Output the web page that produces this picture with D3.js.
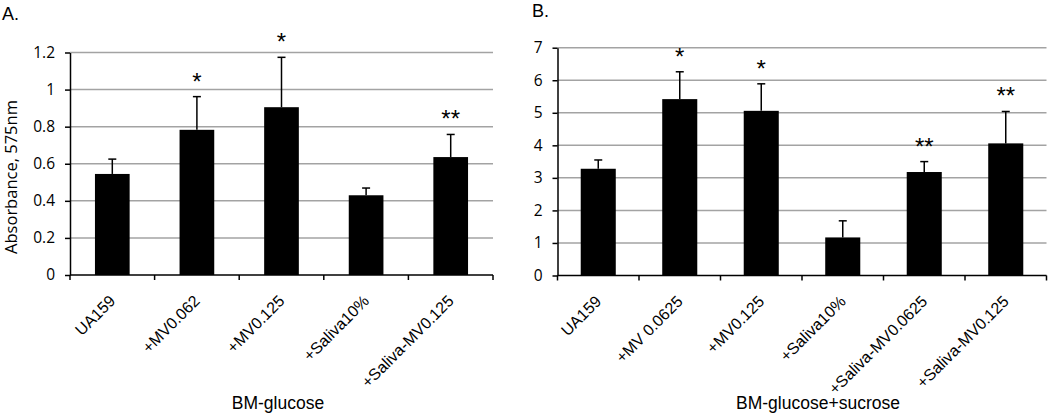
<!DOCTYPE html>
<html><head><meta charset="utf-8">
<script src="https://cdn.jsdelivr.net/npm/d3@7"></script>
<style>body{margin:0;background:#fff}svg{display:block}</style>
</head><body>
<svg id="c" width="1050" height="414"></svg>
<script>
// Panel A data
const catsA = ["UA159", "+MV0.062", "+MV0.125", "+Saliva10%", "+Saliva-MV0.125"];
const meanA = [0.545, 0.783, 0.905, 0.430, 0.636];
const errA  = [0.080, 0.179, 0.269, 0.039, 0.122];
const sigA  = ["", "*", "*", "", "**"];
const ticksA = [0, 0.2, 0.4, 0.6, 0.8, 1, 1.2];

// Panel B data
const catsB = ["UA159", "+MV 0.0625", "+MV0.125", "+Saliva10%", "+Saliva-MV0.0625", "+Saliva-MV0.125"];
const meanB = [3.28, 5.42, 5.06, 1.17, 3.18, 4.06];
const errB  = [0.27, 0.84, 0.83, 0.51, 0.32, 0.98];
const sigB  = ["", "*", "*", "", "**", "**"];
const ticksB = [0, 1, 2, 3, 4, 5, 6, 7];

const svg = d3.select("#c");
const tickFont = "'Open Sans', 'Noto Sans', sans-serif";
const labFont = "'Liberation Sans', Arial, sans-serif";

function panel(o) {
  const g = svg.append("g");
  const x = d3.scaleBand().domain(o.cats).range([o.x0, o.x1]).padding(0);
  const y = d3.scaleLinear().domain([0, o.ymax]).range([o.yb, o.yt]);
  const bw = x.bandwidth() * o.barFrac;

  // gridlines
  g.selectAll(".grid").data(o.ticks.filter(t => t > 0)).join("line")
    .attr("x1", o.x0).attr("x2", o.x1)
    .attr("y1", d => y(d)).attr("y2", d => y(d))
    .attr("stroke", "#a3a3a3").attr("stroke-width", 1.5);

  // bars
  g.selectAll(".bar").data(o.cats).join("rect")
    .attr("x", d => x(d) + x.bandwidth() / 2 - bw / 2)
    .attr("width", bw)
    .attr("y", (d, i) => y(o.mean[i]))
    .attr("height", (d, i) => y(0) - y(o.mean[i]))
    .attr("fill", "#000");

  // error bars (upper)
  o.cats.forEach((c, i) => {
    const cx = x(c) + x.bandwidth() / 2;
    const top = y(o.mean[i] + o.err[i]);
    g.append("line").attr("x1", cx).attr("x2", cx)
      .attr("y1", y(o.mean[i])).attr("y2", top)
      .attr("stroke", "#000").attr("stroke-width", 1.5);
    g.append("line").attr("x1", cx - 4).attr("x2", cx + 4)
      .attr("y1", top).attr("y2", top)
      .attr("stroke", "#000").attr("stroke-width", 1.5);
    if (o.sig[i]) {
      g.append("text").attr("x", cx).attr("y", top - 7)
        .attr("text-anchor", "middle")
        .attr("font-family", labFont).attr("font-size", 24)
        .text(o.sig[i]);
    }
  });

  // y axis
  const ya = g.append("g").attr("transform", `translate(${o.x0},0)`)
    .call(d3.axisLeft(y).tickValues(o.ticks).tickSize(5).tickSizeOuter(0).tickFormat(d3.format("~g")));
  ya.select(".domain").attr("stroke", "#000").attr("stroke-width", 1.5);
  ya.selectAll(".tick line").attr("stroke", "#000").attr("stroke-width", 1.5);
  ya.selectAll(".tick text").attr("font-family", tickFont).attr("font-size", 15.5)
    .attr("fill", "#000").attr("x", -15);

  // x axis line with ticks at band boundaries
  g.append("line").attr("x1", o.x0).attr("x2", o.x1).attr("y1", o.yb).attr("y2", o.yb)
    .attr("stroke", "#000").attr("stroke-width", 1.5);
  const bounds = o.cats.map(c => x(c)).concat([o.x1]);
  g.selectAll(".xt").data(bounds).join("line")
    .attr("x1", d => d).attr("x2", d => d)
    .attr("y1", o.yb).attr("y2", o.yb + 5)
    .attr("stroke", "#000").attr("stroke-width", 1.5);

  // x labels rotated
  g.selectAll(".xl").data(o.cats).join("text")
    .attr("transform", d => `translate(${x(d) + x.bandwidth() / 2 + 4},${o.yb + 27}) rotate(-45)`)
    .attr("text-anchor", "end")
    .attr("font-family", labFont).attr("font-size", 16)
    .text(d => d);

  // x title
  g.append("text").attr("x", o.titleX).attr("y", 409)
    .attr("text-anchor", "middle")
    .attr("font-family", labFont).attr("font-size", 17.5)
    .text(o.xTitle);

  // panel label
  g.append("text").attr("x", o.labX).attr("y", o.labY)
    .attr("font-family", labFont).attr("font-size", 18)
    .text(o.label);
}

panel({cats: catsA, mean: meanA, err: errA, sig: sigA, ticks: ticksA, ymax: 1.2,
  x0: 70, x1: 493, yb: 275, yt: 52.5, barFrac: 0.41,
  xTitle: "BM-glucose", titleX: 278, label: "A.", labX: 2, labY: 20});

panel({cats: catsB, mean: meanB, err: errB, sig: sigB, ticks: ticksB, ymax: 7,
  x0: 557.5, x1: 1046.5, yb: 275.5, yt: 47.7, barFrac: 0.43,
  xTitle: "BM-glucose+sucrose", titleX: 818, label: "B.", labX: 532, labY: 17});

// y axis title (panel A)
svg.append("text")
  .attr("transform", "translate(17,177) rotate(-90)")
  .attr("text-anchor", "middle")
  .attr("font-family", tickFont).attr("font-size", 16.5)
  .text("Absorbance, 575nm");
</script>
</body></html>
